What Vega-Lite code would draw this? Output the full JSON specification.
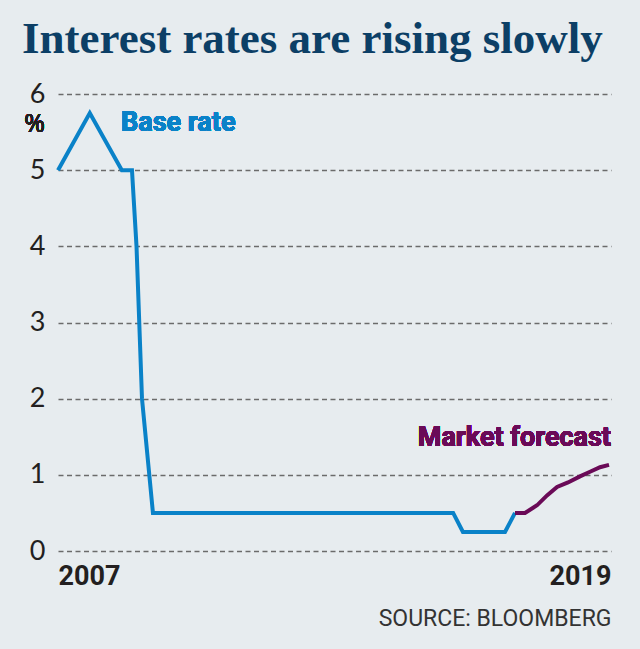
{
  "$schema": "https://vega.github.io/schema/vega-lite/v6.json",
  "autosize": "none",
  "width": 553,
  "height": 457,
  "padding": {"left": 58, "top": 94, "right": 29, "bottom": 98},
  "background": "#e7ecef",
  "view": {"stroke": null},
  "title": {
    "text": "Interest rates are rising slowly",
    "anchor": "start",
    "frame": "group",
    "dx": -36,
    "offset": 18,
    "font": "Liberation Serif",
    "fontSize": 45,
    "fontWeight": "bold",
    "color": "#0c3f66"
  },
  "data": {
    "values": [
      {"date": "2007-01-01", "rate": 5.0, "series": "Base rate"},
      {"date": "2007-10-01", "rate": 5.75, "series": "Base rate"},
      {"date": "2008-07-02", "rate": 5.0, "series": "Base rate"},
      {"date": "2008-09-27", "rate": 5.0, "series": "Base rate"},
      {"date": "2008-11-05", "rate": 4.0, "series": "Base rate"},
      {"date": "2008-12-22", "rate": 2.0, "series": "Base rate"},
      {"date": "2009-03-26", "rate": 0.5, "series": "Base rate"},
      {"date": "2016-04-15", "rate": 0.5, "series": "Base rate"},
      {"date": "2016-07-08", "rate": 0.25, "series": "Base rate"},
      {"date": "2017-07-04", "rate": 0.25, "series": "Base rate"},
      {"date": "2017-09-28", "rate": 0.5, "series": "Base rate"},
      {"date": "2017-09-28", "rate": 0.5, "series": "Market forecast"},
      {"date": "2017-12-23", "rate": 0.5, "series": "Market forecast"},
      {"date": "2018-04-05", "rate": 0.6, "series": "Market forecast"},
      {"date": "2018-06-30", "rate": 0.73, "series": "Market forecast"},
      {"date": "2018-09-24", "rate": 0.84, "series": "Market forecast"},
      {"date": "2018-12-27", "rate": 0.9, "series": "Market forecast"},
      {"date": "2019-04-09", "rate": 0.98, "series": "Market forecast"},
      {"date": "2019-07-04", "rate": 1.04, "series": "Market forecast"},
      {"date": "2019-09-28", "rate": 1.1, "series": "Market forecast"},
      {"date": "2019-12-14", "rate": 1.13, "series": "Market forecast"}
    ]
  },
  "encoding": {
    "x": {
      "field": "date",
      "type": "temporal",
      "scale": {
        "type": "utc",
        "domain": [
          {"year": 2007, "month": 1, "date": 1, "utc": true},
          {"year": 2019, "month": 12, "date": 31, "utc": true}
        ]
      },
      "axis": {
        "values": [
          {"year": 2007, "month": 1, "date": 1, "utc": true},
          {"year": 2019, "month": 12, "date": 31, "utc": true}
        ],
        "labelExpr": "utcFormat(datum.value, '%Y')",
        "labelFlush": true,
        "grid": false,
        "domain": false,
        "ticks": false,
        "labelPadding": 12,
        "labelFont": "Roboto",
        "labelFontSize": 27,
        "labelFontWeight": "bold",
        "labelColor": "#231f20",
        "title": "SOURCE: BLOOMBERG",
        "titleAnchor": "end",
        "titleFont": "Roboto",
        "titleFontSize": 23,
        "titleFontWeight": "normal",
        "titleColor": "#333333",
        "titlePadding": 18
      }
    },
    "y": {
      "field": "rate",
      "type": "quantitative",
      "scale": {"domain": [0, 6], "nice": false},
      "axis": {
        "values": [0, 1, 2, 3, 4, 5, 6],
        "domain": false,
        "ticks": false,
        "grid": true,
        "gridDash": [5, 3.5],
        "gridColor": "#6b6b6b",
        "gridWidth": 1.3,
        "labelPadding": 13,
        "labelFont": "Lato",
        "labelFontWeight": "normal",
        "labelFontSize": 27,
        "labelColor": "#231f20",
        "title": null
      }
    }
  },
  "layer": [
    {
      "mark": {"type": "line", "strokeWidth": 4, "strokeJoin": "miter"},
      "encoding": {
        "color": {
          "field": "series",
          "type": "nominal",
          "scale": {"domain": ["Base rate", "Market forecast"], "range": ["#0a82c8", "#6a0a57"]},
          "legend": null
        }
      }
    },
    {
      "mark": {"type": "text", "align": "right", "baseline": "middle", "dx": -13, "font": "Open Sans", "fontWeight": "normal", "fontSize": 25, "color": "#231f20", "text": "%"},
      "encoding": {
        "x": {"datum": {"year": 2007, "month": 1, "date": 1, "utc": true}, "type": "temporal"},
        "y": {"datum": 5.6, "type": "quantitative"}
      }
    },
    {
      "mark": {"type": "text", "align": "left", "baseline": "middle", "font": "Roboto", "fontWeight": "bold", "fontSize": 27, "color": "#0a82c8", "text": "Base rate"},
      "encoding": {
        "x": {"datum": {"year": 2008, "month": 6, "date": 25, "utc": true}, "type": "temporal"},
        "y": {"datum": 5.62, "type": "quantitative"}
      }
    },
    {
      "mark": {"type": "text", "align": "right", "baseline": "middle", "font": "Roboto", "fontWeight": "bold", "fontSize": 27, "color": "#6a0a57", "text": "Market forecast"},
      "encoding": {
        "x": {"datum": {"year": 2019, "month": 12, "date": 31, "utc": true}, "type": "temporal"},
        "y": {"datum": 1.48, "type": "quantitative"}
      }
    }
  ]
}
